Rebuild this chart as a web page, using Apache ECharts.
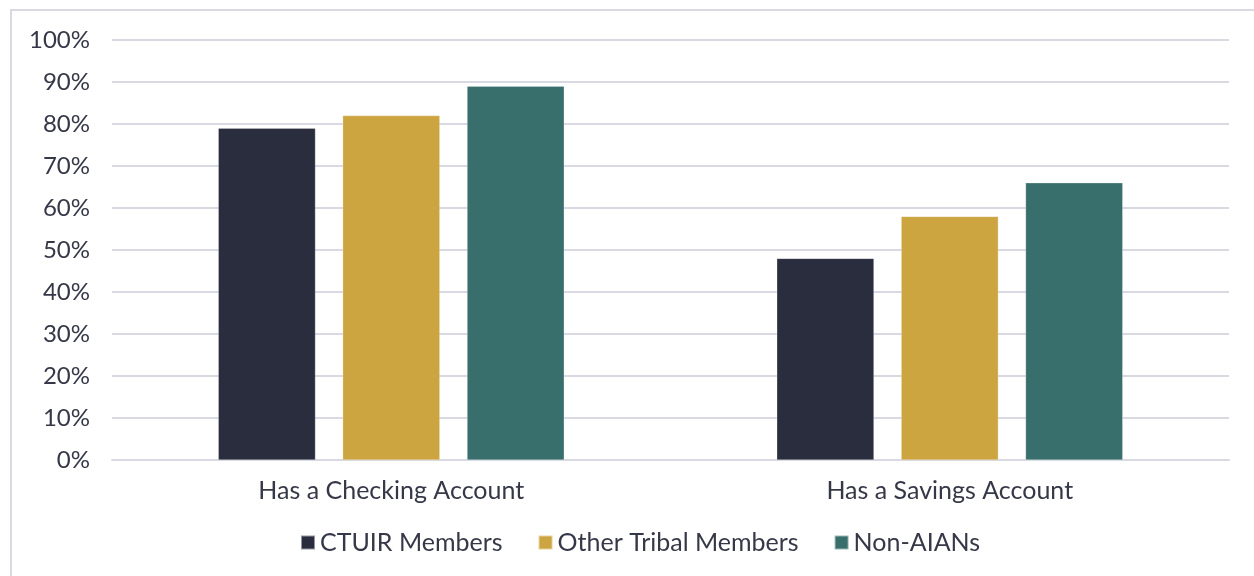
<!DOCTYPE html>
<html lang="en">
<head>
	<meta charset="UTF-8">
	<title>Account ownership</title>
	<script src="https://cdn.jsdelivr.net/npm/echarts@6/dist/echarts.min.js"></script>
	<style>
		* { margin: 0; padding: 0; }
		html, body, #main { width: 100%; height: 100%; background: #fff; }
	</style>
</head>
<body>
	<div id="main"></div>
	<script>
		const categories = ['Has a Checking Account', 'Has a Savings Account'];
		const seriesNames = ['CTUIR Members', 'Other Tribal Members', 'Non-AIANs'];
		const ctuir = [79, 48];
		const otherTribal = [82, 58];
		const nonAian = [89, 66];
		const colors = ['#2a2d3e', '#cca541', '#386e6b'];

		const textColor = '#363848';
		const font = 'Lato';

		const myChart = echarts.init(document.getElementById('main'));

		const values = [ctuir, otherTribal, nonAian];
		const series = seriesNames.map((name, i) => ({
			name,
			type: 'bar',
			data: values[i],
			barWidth: '17.4%',
			barGap: '28%',
			itemStyle: { color: colors[i], borderColor: 'rgba(255,255,255,0.5)', borderWidth: 0.5 }
		}));

		const option = {
			animation: false,
			textStyle: { fontFamily: font },
			graphic: [{
				type: 'rect',
				shape: { x: 11, y: 10, width: 1400, height: 700 },
				style: { fill: 'none', stroke: '#d9d9e3', lineWidth: 2 },
				silent: true
			}],
			grid: { left: 112, right: 25, top: 40, bottom: 116 },
			legend: {
				top: 525,
				left: 295,
				itemWidth: 14,
				itemHeight: 14,
				itemGap: 35,
				icon: 'rect',
				textStyle: { fontSize: 25, color: textColor, fontFamily: font },
				data: seriesNames
			},
			xAxis: {
				type: 'category',
				data: categories,
				axisLine: { show: true, lineStyle: { color: '#d9d9e3', width: 2 } },
				axisTick: { show: false },
				axisLabel: { fontSize: 25, color: textColor, margin: 18 }
			},
			yAxis: {
				type: 'value',
				min: 0,
				max: 100,
				interval: 10,
				axisLine: { show: false },
				axisTick: { show: false },
				axisLabel: { fontSize: 24, color: textColor, margin: 22, formatter: '{value}%' },
				splitLine: { lineStyle: { color: '#d9d9e3', width: 2 } }
			},
			series
		};

		myChart.setOption(option);
	</script>
</body>
</html>
